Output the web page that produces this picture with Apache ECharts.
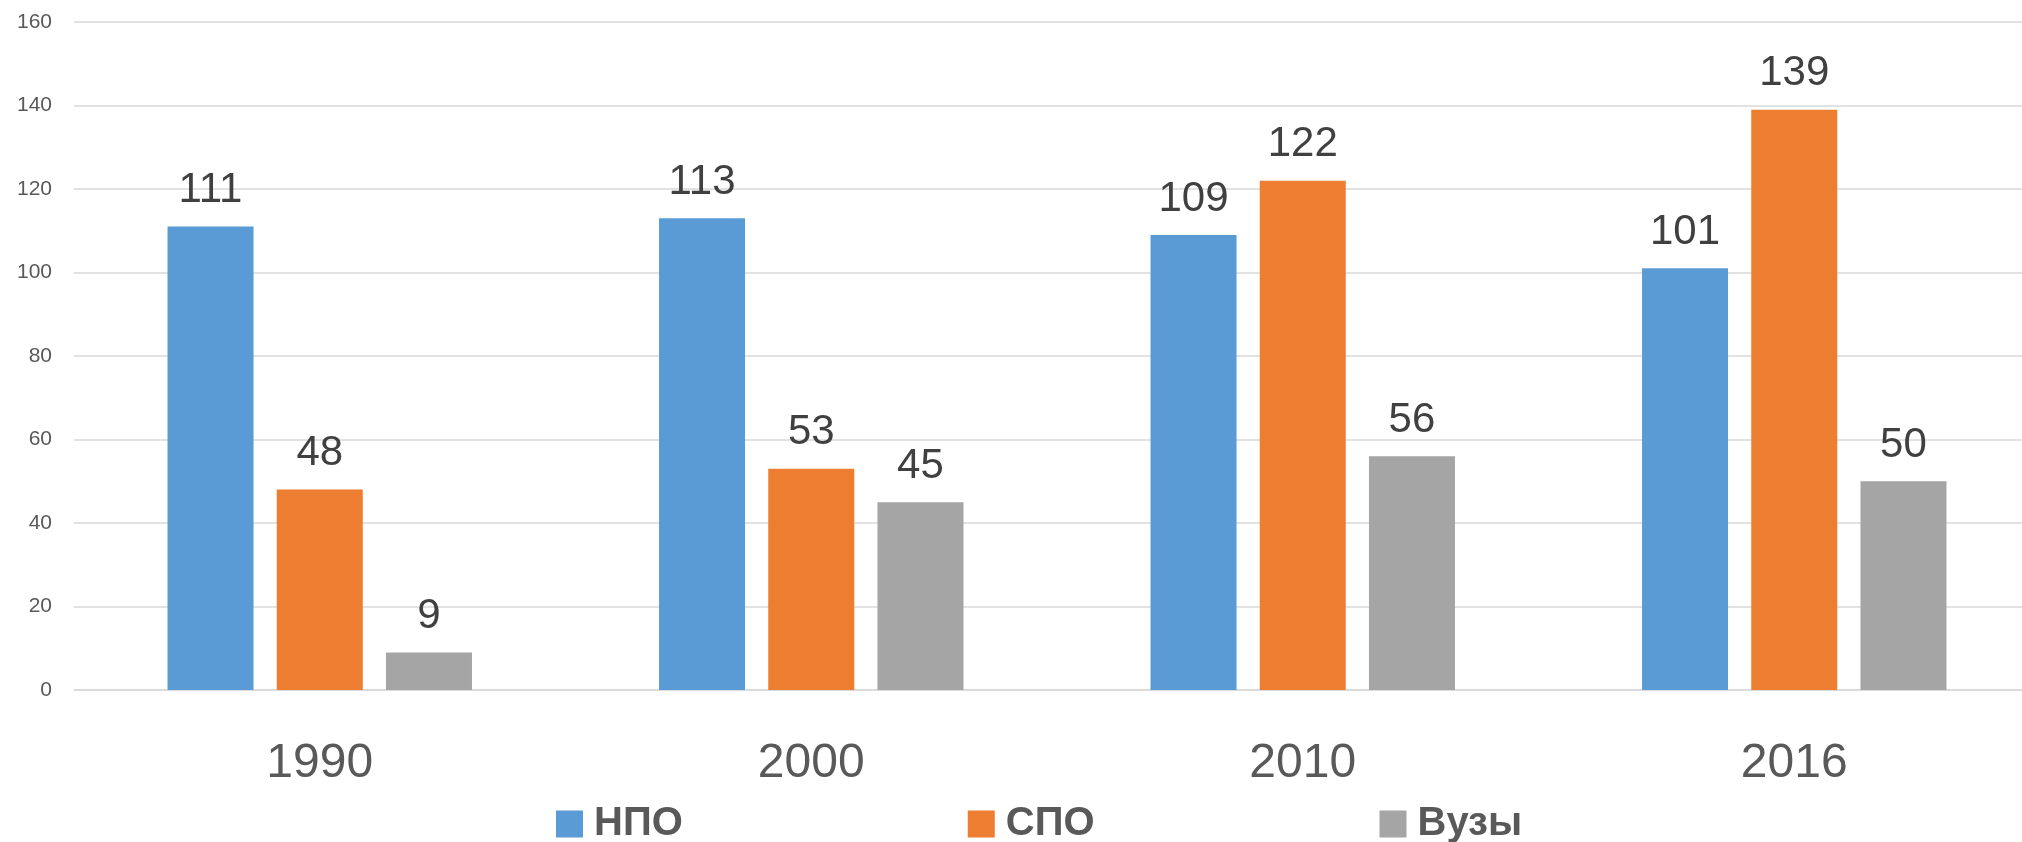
<!DOCTYPE html>
<html>
<head>
<meta charset="utf-8">
<script src="https://cdn.jsdelivr.net/npm/echarts@6/dist/echarts.min.js"></script>
<style>
html,body{margin:0;padding:0;background:#fff;}
#chart{width:2022px;height:842px;}
</style>
</head>
<body>
<div id="chart"></div>
<script>
const categories = ['1990', '2000', '2010', '2016'];
const seriesNames = ['НПО', 'СПО', 'Вузы'];
const npo = [111, 113, 109, 101];
const spo = [48, 53, 122, 139];
const vuzy = [9, 45, 56, 50];
const colors = ['#5B9BD5', '#ED7D31', '#A5A5A5'];

const FONT = '"Liberation Sans", Arial, sans-serif';
const chart = echarts.init(document.getElementById('chart'), null, {renderer: 'canvas'});

function mkSeries(name, data, color) {
  return {
    name: name,
    type: 'bar',
    data: data,
    barWidth: 86,
    barGap: '27%',
    itemStyle: {color: color},
    label: {
      show: true,
      position: 'top',
      distance: 15,
      color: '#404040',
      fontSize: 42,
      fontFamily: FONT
    },
    emphasis: {disabled: true}
  };
}

chart.setOption({
  animation: false,
  backgroundColor: '#ffffff',
  textStyle: {fontFamily: FONT},
  grid: {left: 74, top: 22, right: -18, height: 668, containLabel: false, outerBoundsMode: 'none'},
  legend: {
    data: seriesNames,
    left: 556,
    top: 804,
    padding: 0,
    itemWidth: 27,
    itemHeight: 27,
    itemGap: 285,
    icon: 'rect',
    textStyle: {fontSize: 40, fontWeight: 'bold', color: '#595959', fontFamily: FONT, padding: [0, 0, 0, 6]}
  },
  xAxis: {
    type: 'category',
    data: categories,
    axisTick: {show: false},
    axisLine: {show: true, lineStyle: {color: '#D9D9D9', width: 1.5}},
    axisLabel: {fontSize: 48, color: '#595959', margin: 50, fontFamily: FONT}
  },
  yAxis: {
    type: 'value',
    min: 0,
    max: 160,
    interval: 20,
    axisLine: {show: false},
    axisTick: {show: false},
    splitLine: {lineStyle: {color: '#D9D9D9', width: 1.5}},
    axisLabel: {fontSize: 21, color: '#595959', margin: 22, fontFamily: FONT}
  },
  series: [
    mkSeries(seriesNames[0], npo, colors[0]),
    mkSeries(seriesNames[1], spo, colors[1]),
    mkSeries(seriesNames[2], vuzy, colors[2])
  ]
});
</script>
</body>
</html>
